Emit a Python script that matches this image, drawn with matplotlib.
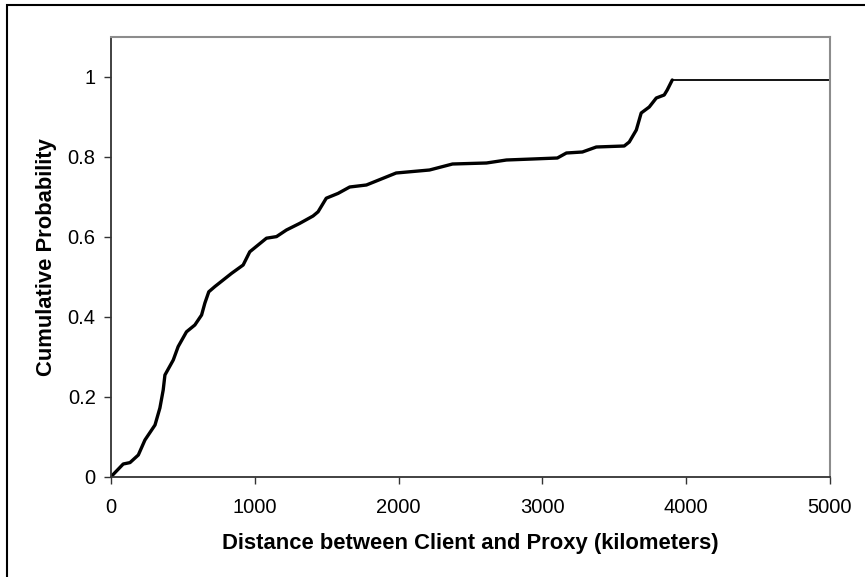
import matplotlib
matplotlib.use("Agg")
import matplotlib.pyplot as plt

# CDF of client-proxy distance
dist_km = [0, 5, 85, 132, 190, 236, 306, 340, 363, 375, 433, 467, 525, 583,
           630, 653, 680, 722, 838, 919, 965, 1081, 1151, 1220, 1312, 1405,
           1440, 1497, 1579, 1660, 1776, 1914, 1983, 2215, 2375, 2611, 2750,
           2931, 3104, 3167, 3278, 3375, 3569, 3604, 3653, 3687, 3743, 3792,
           3847, 3868, 3903]
cum_prob = [0, 0.0025, 0.0325, 0.036, 0.055, 0.0925, 0.13, 0.1725, 0.2175,
            0.255, 0.2925, 0.326, 0.363, 0.38, 0.405, 0.435, 0.463, 0.476,
            0.509, 0.53, 0.563, 0.597, 0.601, 0.6175, 0.634, 0.6525, 0.663,
            0.697, 0.709, 0.725, 0.73, 0.75, 0.76, 0.7675, 0.7825, 0.785,
            0.7925, 0.795, 0.7975, 0.81, 0.8125, 0.825, 0.8275, 0.8375,
            0.8675, 0.91, 0.925, 0.9475, 0.955, 0.9675, 0.9925]
tail_km = [3903, 5100]
tail_prob = [0.9925, 0.9925]

xticks = [0, 1000, 2000, 3000, 4000, 5000]
yticks = [0, 0.2, 0.4, 0.6, 0.8, 1.0]
ytick_labels = ["0", "0.2", "0.4", "0.6", "0.8", "1"]

plt.rcParams['font.family'] = ['Liberation Sans', 'DejaVu Sans']

fig = plt.figure(figsize=(8.65, 5.77), dpi=100)
ax = fig.add_axes([111/865, 1 - 477/577, (830 - 111)/865, (477 - 37)/577])

ax.plot(dist_km, cum_prob, color='black', lw=2.4, solid_joinstyle='round',
        solid_capstyle='round')
ax.plot(tail_km, tail_prob, color='black', lw=1.3)

ax.set_xlim(0, 5000)
ax.set_ylim(0, 1.1)
ax.set_xticks(xticks)
ax.set_xticklabels([str(t) for t in xticks])
ax.set_yticks(yticks)
ax.set_yticklabels(ytick_labels)
ax.tick_params(axis='both', direction='out', length=5, width=1,
               color='#333333', labelsize=14.5)
ax.tick_params(axis='x', pad=10)
ax.tick_params(axis='y', pad=6)

for s in ['left', 'bottom']:
    ax.spines[s].set_color('#333333')
    ax.spines[s].set_linewidth(1.3)
for s in ['top', 'right']:
    ax.spines[s].set_color('#8c8c8c')
    ax.spines[s].set_linewidth(1.5)

ax.set_xlabel('Distance between Client and Proxy (kilometers)',
              fontsize=15.8, fontweight='bold', labelpad=12)
ax.set_ylabel('Cumulative Probability', fontsize=15.8, fontweight='bold',
              labelpad=8)

# outer chart-area frame (only left/top edges visible)
frame = plt.Rectangle((7/865, -0.2), 1.5, 1 - 5/577 + 0.2,
                      transform=fig.transFigure, fill=False,
                      edgecolor='black', lw=1.5)
fig.patches.append(frame)

fig.savefig('out.png', dpi=100)
